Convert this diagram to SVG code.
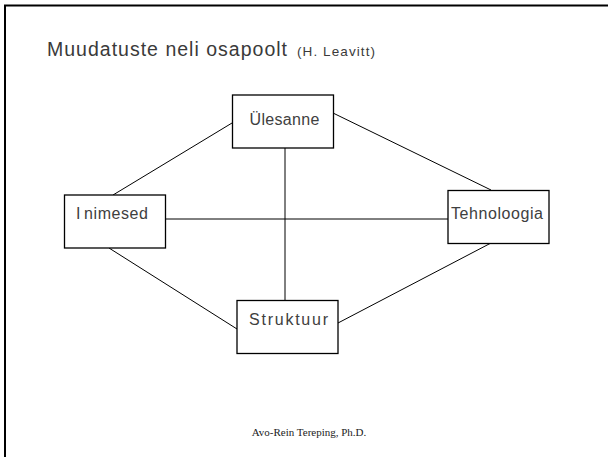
<svg xmlns="http://www.w3.org/2000/svg" width="608" height="457" viewBox="0 0 608 457">
  <style>
    .frame { stroke: #000; stroke-width: 2; fill: none; }
    .box { fill: #fff; stroke: #000; stroke-width: 1.3; }
    .link { stroke: #000; stroke-width: 1; fill: none; }
    .label { font-family: "Liberation Sans", Arial, sans-serif; font-size: 16px; fill: #404040; }
    .title { font-family: "Liberation Sans", Arial, sans-serif; fill: #3a3a3a; }
    .footer { font-family: "Liberation Serif", "Times New Roman", serif; font-size: 11px; fill: #222; }
  </style>
  <rect width="608" height="457" fill="#fff"/>
  <!-- slide frame (top and left edges) -->
  <line class="frame" x1="4" y1="5.5" x2="608" y2="5.5"/>
  <line class="frame" x1="5" y1="5" x2="5" y2="457"/>

  <!-- heading -->
  <text class="title" x="47" y="56" font-size="19.5" textLength="240" lengthAdjust="spacing">Muudatuste neli osapoolt</text>
  <text class="title" x="297" y="56" font-size="13.5" textLength="78" lengthAdjust="spacing">(H. Leavitt)</text>

  <!-- connectors -->
  <g id="connectors">
    <line class="link" x1="232" y1="123" x2="113" y2="195"/>
    <line class="link" x1="333" y1="113" x2="491" y2="190"/>
    <line class="link" x1="285" y1="148" x2="285" y2="300"/>
    <line class="link" x1="165" y1="219" x2="448" y2="219"/>
    <line class="link" x1="109" y1="248" x2="237" y2="329"/>
    <line class="link" x1="491" y1="243" x2="338" y2="323"/>
  </g>

  <!-- nodes -->
  <g id="node-ulesanne">
    <rect class="box" x="232.5" y="95" width="101" height="53"/>
    <text class="label" x="249.5" y="124.5" textLength="70" lengthAdjust="spacing">Ülesanne</text>
  </g>
  <g id="node-inimesed">
    <rect class="box" x="64.5" y="195" width="101" height="53"/>
    <text class="label" x="76" y="219" textLength="72" lengthAdjust="spacing">I<tspan dx="3">nimesed</tspan></text>
  </g>
  <g id="node-tehnoloogia">
    <rect class="box" x="448" y="190.5" width="101" height="53"/>
    <text class="label" x="451" y="218.5" textLength="92" lengthAdjust="spacing">Tehnoloogia</text>
  </g>
  <g id="node-struktuur">
    <rect class="box" x="237" y="300.5" width="101" height="53"/>
    <text class="label" x="249" y="325" textLength="79" lengthAdjust="spacing">Struktuur</text>
  </g>

  <!-- footer -->
  <text class="footer" x="309" y="436" text-anchor="middle">Avo-Rein Tereping, Ph.D.</text>
</svg>
